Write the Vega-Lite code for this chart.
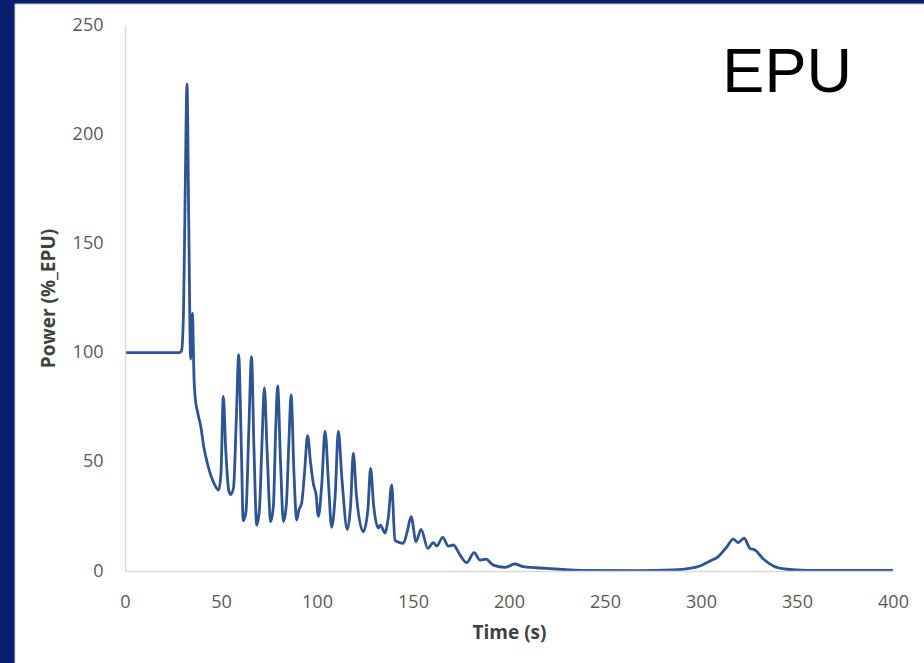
{
  "$schema": "https://vega.github.io/schema/vega-lite/v6.json",
  "width": 768,
  "height": 546,
  "autosize": {"type": "none"},
  "padding": {"left": 125, "top": 25, "right": 31, "bottom": 92},
  "background": "#0a1f6e",
  "config": {
    "view": {"stroke": null},
    "axis": {"domainColor": "#d9d9d9", "domainWidth": 1.5, "ticks": false, "tickSize": 0, "grid": false, "labelFlush": false, "labelColor": "#595959", "labelFont": "Open Sans", "labelFontSize": 18, "titleFont": "Open Sans", "titleFontSize": 19, "titleFontWeight": "bold", "titleColor": "#404040"}
  },
  "layer": [
    {
      "data": {"values": [{"panel": "white"}]},
      "mark": {"type": "rect", "color": "#ffffff", "stroke": "#c8c8c8", "strokeWidth": 1},
      "encoding": {
        "x": {"datum": -57.3, "type": "quantitative", "scale": {"domain": [0, 400], "nice": false, "zero": false},
              "title": "Time (s)", "axis": {"zindex": 2, "values": [0, 50, 100, 150, 200, 250, 300, 350, 400], "labelPadding": 22, "titlePadding": 12}},
        "x2": {"datum": 416.5},
        "y": {"datum": -42.5, "type": "quantitative", "scale": {"domain": [0, 250], "nice": false, "zero": false},
              "title": "Power (%_EPU)", "axis": {"zindex": 2, "values": [0, 50, 100, 150, 200, 250], "labelPadding": 22, "titlePadding": 14}},
        "y2": {"datum": 259.6}
      }
    },
    {
      "data": {"values": [
        {"t": 0, "p": 100}, {"t": 28.5, "p": 100}, {"t": 29.5, "p": 101}, {"t": 30.5, "p": 120}, {"t": 31.3, "p": 170}, {"t": 32.3, "p": 223}, {"t": 33.2, "p": 160}, {"t": 34.2, "p": 97}, {"t": 35.1, "p": 118}, {"t": 36, "p": 87},
        {"t": 36.5, "p": 80}, {"t": 38, "p": 72}, {"t": 39.5, "p": 66}, {"t": 41, "p": 57}, {"t": 43, "p": 49}, {"t": 45, "p": 43}, {"t": 47, "p": 39}, {"t": 48.8, "p": 37},
        {"t": 50, "p": 45}, {"t": 51.2, "p": 80}, {"t": 52.5, "p": 55}, {"t": 54, "p": 37}, {"t": 55, "p": 35}, {"t": 56.5, "p": 38}, {"t": 58, "p": 70}, {"t": 59.2, "p": 99},
        {"t": 60.5, "p": 60}, {"t": 61.6, "p": 23}, {"t": 63, "p": 27}, {"t": 64.5, "p": 65}, {"t": 65.9, "p": 98}, {"t": 67.2, "p": 55}, {"t": 68.6, "p": 21}, {"t": 70, "p": 28},
        {"t": 71.4, "p": 60}, {"t": 72.6, "p": 84}, {"t": 74, "p": 55}, {"t": 75.9, "p": 22.6}, {"t": 77.3, "p": 30}, {"t": 78.5, "p": 65}, {"t": 79.5, "p": 84.7}, {"t": 81, "p": 50},
        {"t": 82.5, "p": 22.6}, {"t": 84, "p": 30}, {"t": 85.4, "p": 60}, {"t": 86.5, "p": 80.6}, {"t": 88, "p": 45}, {"t": 89.4, "p": 23.3}, {"t": 90.6, "p": 28}, {"t": 92, "p": 31},
        {"t": 93.5, "p": 45}, {"t": 95.1, "p": 62}, {"t": 96.6, "p": 50}, {"t": 98.1, "p": 40}, {"t": 99.5, "p": 35}, {"t": 100.7, "p": 25}, {"t": 102.5, "p": 40}, {"t": 104.2, "p": 64},
        {"t": 106, "p": 40}, {"t": 107.6, "p": 20}, {"t": 109.5, "p": 35}, {"t": 111.1, "p": 64}, {"t": 113, "p": 42}, {"t": 115.8, "p": 19}, {"t": 117.5, "p": 30}, {"t": 118.9, "p": 54},
        {"t": 120.5, "p": 35}, {"t": 124.1, "p": 18}, {"t": 126.5, "p": 28}, {"t": 127.9, "p": 47}, {"t": 129.5, "p": 30}, {"t": 131.9, "p": 19.7}, {"t": 133, "p": 21}, {"t": 135.4, "p": 17.4},
        {"t": 137.2, "p": 25}, {"t": 138.9, "p": 39.4}, {"t": 140.6, "p": 14.2}, {"t": 143, "p": 13}, {"t": 145, "p": 12.7}, {"t": 147, "p": 18}, {"t": 149, "p": 24.9}, {"t": 151.6, "p": 13.4},
        {"t": 154.2, "p": 19.1}, {"t": 157.7, "p": 10.4}, {"t": 160.6, "p": 13}, {"t": 162.3, "p": 11.4}, {"t": 165.5, "p": 15.4}, {"t": 168.4, "p": 11.4}, {"t": 171, "p": 11.9},
        {"t": 174.5, "p": 7.3}, {"t": 178, "p": 3.8}, {"t": 181.8, "p": 8.4}, {"t": 184.9, "p": 5}, {"t": 188, "p": 5.4}, {"t": 191.8, "p": 2.7}, {"t": 197.9, "p": 1.7}, {"t": 203, "p": 3.2},
        {"t": 207.5, "p": 2}, {"t": 219.6, "p": 1.2}, {"t": 237, "p": 0.3}, {"t": 268, "p": 0.2}, {"t": 285, "p": 0.5}, {"t": 294, "p": 1.2}, {"t": 299.5, "p": 2.3}, {"t": 304.7, "p": 4.6},
        {"t": 309, "p": 6.6}, {"t": 313.4, "p": 11}, {"t": 316.8, "p": 14.6}, {"t": 319.4, "p": 13}, {"t": 322.4, "p": 15}, {"t": 325.5, "p": 10.4}, {"t": 328.1, "p": 9.6}, {"t": 332.5, "p": 5.5},
        {"t": 337.7, "p": 2.3}, {"t": 344.6, "p": 0.8}, {"t": 355, "p": 0.3}, {"t": 400, "p": 0.3}
      ]},
      "mark": {"type": "line", "color": "#2f5496", "strokeWidth": 2.8, "interpolate": "monotone"},
      "encoding": {
        "x": {"field": "t", "type": "quantitative", "title": "Time (s)"},
        "y": {"field": "p", "type": "quantitative", "title": "Power (%_EPU)"}
      }
    },
    {
      "data": {"values": [{"label": "EPU"}]},
      "mark": {"type": "text", "font": "Liberation Sans", "fontSize": 63, "color": "#000000", "align": "right", "baseline": "alphabetic"},
      "encoding": {
        "x": {"datum": 378.6, "type": "quantitative"},
        "y": {"datum": 219.3, "type": "quantitative"},
        "text": {"field": "label"}
      }
    }
  ]
}
